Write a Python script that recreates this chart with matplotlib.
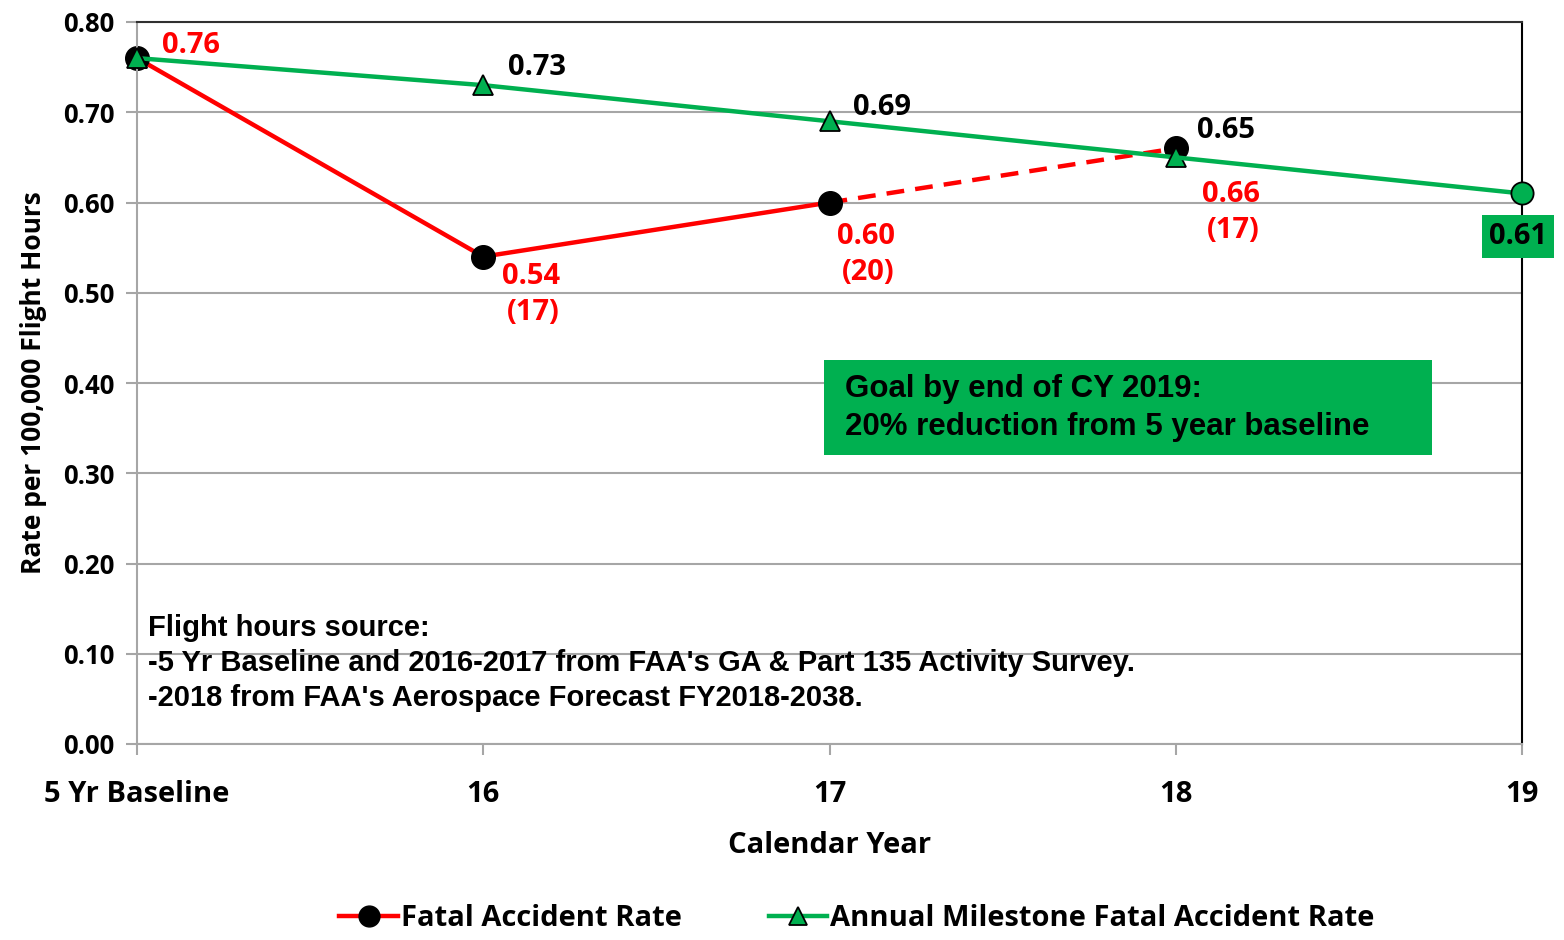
import matplotlib.pyplot as plt

# data
categories = ["5 Yr Baseline", "16", "17", "18", "19"]
fatal_rate = [0.76, 0.54, 0.60, 0.66]
fatal_counts = [None, "(17)", "(20)", "(17)"]
milestone = [0.76, 0.73, 0.69, 0.65, 0.61]
y_ticks = [0.0, 0.1, 0.2, 0.3, 0.4, 0.5, 0.6, 0.7, 0.8]

RED = "#FF0000"
GREEN = "#00B050"
GRID = "#A6A6A6"
LBL = "Open Sans"
ARIAL = "Liberation Sans"

fig = plt.figure(figsize=(15.64, 9.4), dpi=100)
ax = fig.add_axes([137 / 1564, 1 - 744 / 940, (1522 - 137) / 1564, (744 - 22) / 940])

x = list(range(len(categories)))

# milestone line
ax.plot(x[:4], milestone[:4], color=GREEN, lw=3.2, marker="^", ms=15,
        mfc=GREEN, mec="black", mew=1.3, zorder=3)
ax.plot(x[3:], milestone[3:], color=GREEN, lw=3.2, zorder=3)
ax.plot([x[4]], [milestone[4]], marker="o", ms=16, mfc=GREEN, mec="black",
        mew=1.3, ls="none", zorder=4, clip_on=False)

# fatal accident rate: solid through 17, dashed to 18
ax.plot(x[:3], fatal_rate[:3], color=RED, lw=3.2, zorder=2)
ax.plot(x[2:4], fatal_rate[2:4], color=RED, lw=3.2, ls=(0, (4, 2.5)), zorder=2)
ax.plot(x[:4], fatal_rate, ls="none", marker="o", ms=17, mfc="black",
        mec="black", zorder=2, clip_on=False)
# redraw first triangle on top of the black dot
ax.plot([x[0]], [milestone[0]], marker="^", ms=15, mfc=GREEN, mec="black",
        mew=1.3, zorder=5, clip_on=False)

ax.set_xlim(0, 4)
ax.set_ylim(0, 0.8)
ax.set_yticks(y_ticks)
ax.set_yticklabels([f"{v:.2f}" for v in y_ticks], fontfamily=LBL,
                   fontweight="bold", fontsize=18.5)
ax.set_xticks(x)
ax.set_xticklabels(categories, fontfamily=LBL, fontweight="bold", fontsize=21)
ax.tick_params(axis="y", length=8, width=1.5, color=GRID, pad=8)
ax.tick_params(axis="x", length=8, width=1.5, color=GRID, pad=18)
ax.grid(axis="y", color=GRID, lw=1.5)
ax.set_axisbelow(True)
for s in ["left", "bottom"]:
    ax.spines[s].set_color(GRID)
    ax.spines[s].set_linewidth(1.5)
ax.spines["top"].set_color("#303030")
ax.spines["top"].set_linewidth(1.5)
ax.spines["right"].set_color("black")
ax.spines["right"].set_linewidth(1.5)

ax.set_xlabel("Calendar Year", fontfamily=LBL, fontweight="bold", fontsize=21,
              labelpad=16)
ax.set_ylabel("Rate per 100,000 Flight Hours", fontfamily=LBL,
              fontweight="bold", fontsize=19, labelpad=12)

# value labels
def lab(xi, yi, text, dx, dy, color, ha="left"):
    ax.annotate(text, (xi, yi), xytext=(dx, dy), textcoords="offset pixels",
                color=color, fontfamily=LBL, fontweight="bold", fontsize=21,
                ha=ha, va="center", annotation_clip=False)

lab(x[0], fatal_rate[0], f"{fatal_rate[0]:.2f}", 25, 13, RED)
lab(x[1], milestone[1], f"{milestone[1]:.2f}", 25, 18, "black")
lab(x[2], milestone[2], f"{milestone[2]:.2f}", 23, 14, "black")
lab(x[3], milestone[3], f"{milestone[3]:.2f}", 21, 27, "black")

offs = [None, (48, -20), (37, -34), (55, -46)]
for i in range(1, 4):
    dx, dy = offs[i]
    lab(x[i], fatal_rate[i], f"{fatal_rate[i]:.2f}", dx, dy, RED, ha="center")
    lab(x[i], fatal_rate[i], fatal_counts[i], dx + 2, dy - 36, RED, ha="center")

ax.annotate(f"{milestone[4]:.2f}", (x[4], milestone[4]), xytext=(-4, -43),
            textcoords="offset pixels", ha="center", va="center",
            fontfamily=LBL, fontweight="bold", fontsize=21, color="black",
            annotation_clip=False,
            bbox=dict(boxstyle="square,pad=0.25", fc=GREEN, ec="none"))

# goal box
fig.patches.append(plt.Rectangle((824 / 1564, 1 - 455 / 940), 608 / 1564,
                                 95 / 940, transform=fig.transFigure,
                                 fc=GREEN, ec="none", zorder=5))
fig.text(845 / 1564, 1 - 408 / 940,
         "Goal by end of CY 2019:\n20% reduction from 5 year baseline",
         fontfamily=ARIAL, fontweight="bold", fontsize=22.5, va="center",
         ha="left", linespacing=1.35, zorder=6)

# flight hours note
fig.text(148 / 1564, 1 - 663 / 940,
         "Flight hours source:\n-5 Yr Baseline and 2016-2017 from FAA's GA & Part 135 Activity Survey.\n-2018 from FAA's Aerospace Forecast FY2018-2038.",
         fontfamily=ARIAL, fontweight="bold", fontsize=21, va="center",
         ha="left", linespacing=1.32)

# legend
h1, = ax.plot([], [], color=RED, lw=3.2, marker="o", ms=15, mfc="black",
              mec="black")
h2, = ax.plot([], [], color=GREEN, lw=3.2, marker="^", ms=13, mfc=GREEN,
              mec="black", mew=1.3)
fig.legend([h1, h2], ["Fatal Accident Rate",
                      "Annual Milestone Fatal Accident Rate"],
           loc="center", bbox_to_anchor=(857 / 1564, 1 - 919 / 940), ncol=2,
           frameon=False, handlelength=2.0, handletextpad=0.1,
           columnspacing=3.0, prop=dict(family=LBL, weight="bold", size=21))

fig.savefig("out.png", dpi=100)
